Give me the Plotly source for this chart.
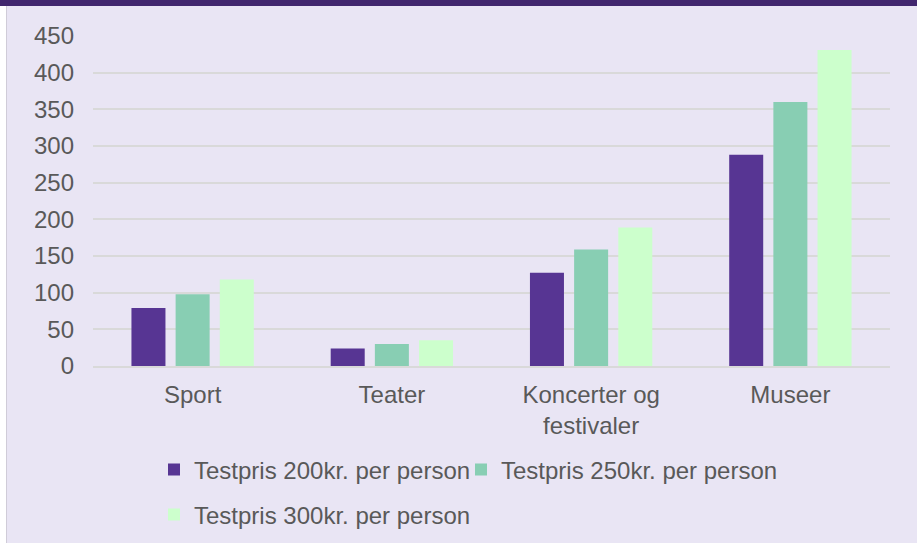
import plotly.graph_objects as go

categories = ["Sport", "Teater", "Koncerter og<br>festivaler", "Museer"]
series_names = ["Testpris 200kr. per person", "Testpris 250kr. per person", "Testpris 300kr. per person"]
values_200 = [79, 24, 127, 288]
values_250 = [98, 30, 159, 360]
values_300 = [118, 35, 189, 431]
y_ticks = [0, 50, 100, 150, 200, 250, 300, 350, 400, 450]

colors = ["#573593", "#88CEB3", "#CCFFCC"]
bg = "#E9E5F4"
text_color = "#595959"
font_family = "Liberation Sans, Arial, sans-serif"
fs = 24

W, H = 917, 543
ML, MR, MT, MB = 93, 27, 36, 177
PW = W - ML - MR
PH = H - MT - MB

fig = go.Figure()
all_vals = [values_200, values_250, values_300]
legend_ids = ["legend", "legend2", "legend3"]
for name, vals, col, lg in zip(series_names, all_vals, colors, legend_ids):
    fig.add_trace(go.Bar(
        x=categories, y=vals, name=name,
        marker=dict(color=col, line=dict(width=0)),
        legend=lg,
    ))

def px_x(px):
    return (px - ML) / PW

def px_y(py):
    return 1 - (py - MT) / PH

legend_common = dict(
    orientation="h", bgcolor="rgba(0,0,0,0)", borderwidth=0,
    font=dict(family=font_family, size=fs, color=text_color),
    xanchor="left", yanchor="middle",
)

fig.update_layout(
    width=W, height=H,
    margin=dict(l=ML, r=MR, t=MT, b=MB, autoexpand=False),
    paper_bgcolor=bg, plot_bgcolor=bg,
    font=dict(family=font_family, size=fs, color=text_color),
    barmode="group", bargap=0.335, bargroupgap=0.23,
    showlegend=True,
    legend=dict(**legend_common, x=px_x(154), y=px_y(470)),
    legend2=dict(**legend_common, x=px_x(461), y=px_y(470)),
    legend3=dict(**legend_common, x=px_x(154), y=px_y(515)),
    xaxis=dict(
        showgrid=False, showline=True, linecolor="#D9D9D9", linewidth=1.5,
        ticks="", tickfont=dict(family=font_family, size=fs, color=text_color),
        ticklabelstandoff=6,
    ),
    yaxis=dict(
        range=[0, 450], tickvals=y_ticks, ticktext=[str(v) for v in y_ticks],
        showgrid=True, gridcolor="#D9D9D9", gridwidth=1.5,
        zeroline=False, showline=False, ticks="",
        tickfont=dict(family=font_family, size=fs, color=text_color),
        ticklabelstandoff=18,
    ),
    shapes=[
        dict(type="rect", xref="paper", yref="paper", layer="below",
             x0=px_x(0), x1=px_x(6), y0=px_y(H), y1=px_y(6),
             fillcolor="#FFFFFF", line=dict(width=0)),
        dict(type="line", xref="paper", yref="paper", layer="below",
             x0=px_x(6.5), x1=px_x(6.5), y0=px_y(H), y1=px_y(6),
             line=dict(color="#D0CCD8", width=1)),
        dict(type="rect", xref="paper", yref="paper", layer="above",
             x0=px_x(0), x1=px_x(W), y0=px_y(6), y1=px_y(0),
             fillcolor="#41266E", line=dict(width=0)),
    ],
)

fig.write_html("out.html", config={"displayModeBar": False})

# remove the browser's default body margin so the figure fills the window
with open("out.html", "r", encoding="utf-8") as f:
    html = f.read()
html = html.replace("<body>", '<body style="margin:0;overflow:hidden;background:%s">' % bg, 1)
with open("out.html", "w", encoding="utf-8") as f:
    f.write(html)
